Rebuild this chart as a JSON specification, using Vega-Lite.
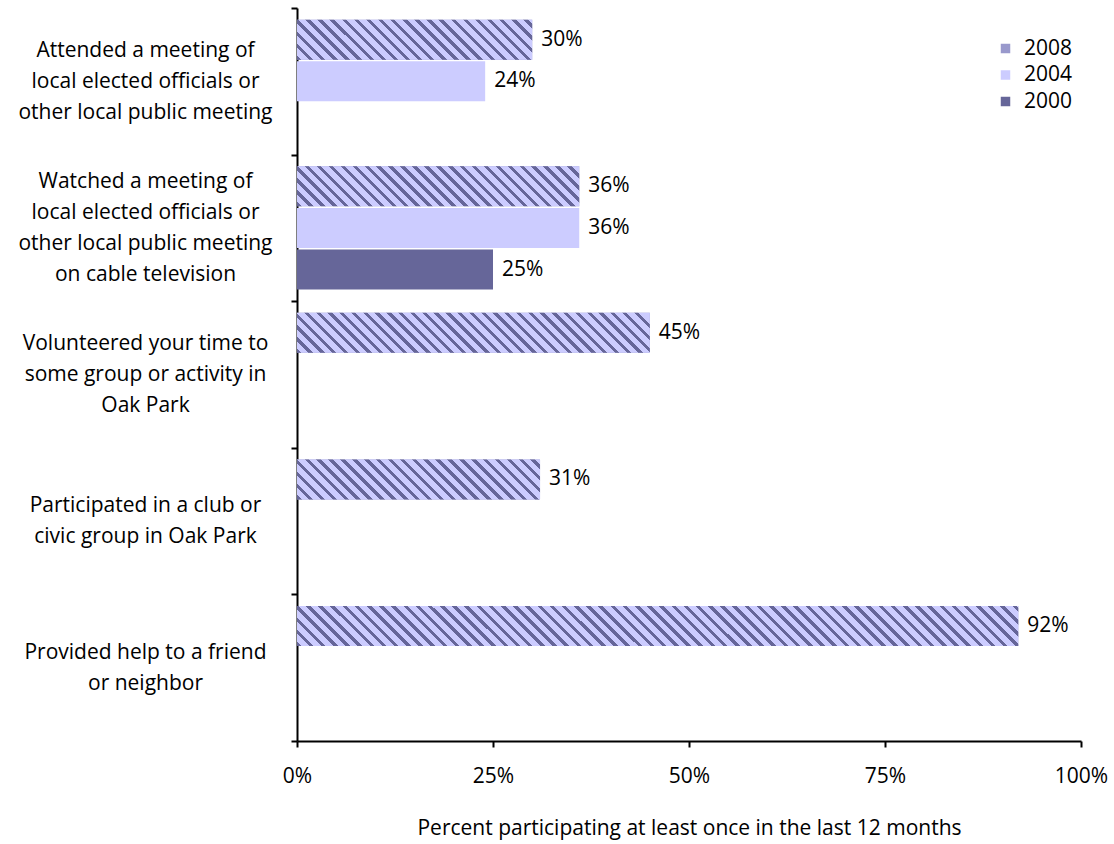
{
  "$schema": "https://vega.github.io/schema/vega-lite/v6.json",
  "width": 784,
  "height": 733,
  "autosize": "none",
  "padding": {"left": 297, "top": 8, "right": 33, "bottom": 103},
  "background": "white",
  "config": {
    "font": "Open Sans",
    "view": {"stroke": null},
    "axis": {"domainColor": "black", "tickColor": "black", "labelColor": "black", "labelFont": "Open Sans", "labelFontSize": 21, "grid": false, "domainWidth": 2, "tickWidth": 2, "tickSize": 6, "titleFont": "Open Sans", "titleFontSize": 21, "titleFontWeight": "normal", "titleColor": "black"}
  },
  "data": {
    "values": [
      {"activity": "Attended a meeting of|local elected officials or|other local public meeting", "year": "2008", "pct": 0.30},
      {"activity": "Attended a meeting of|local elected officials or|other local public meeting", "year": "2004", "pct": 0.24},
      {"activity": "Watched a meeting of|local elected officials or|other local public meeting|on cable television", "year": "2008", "pct": 0.36},
      {"activity": "Watched a meeting of|local elected officials or|other local public meeting|on cable television", "year": "2004", "pct": 0.36},
      {"activity": "Watched a meeting of|local elected officials or|other local public meeting|on cable television", "year": "2000", "pct": 0.25},
      {"activity": "Volunteered your time to|some group or activity in|Oak Park", "year": "2008", "pct": 0.45},
      {"activity": "Participated in a club or|civic group in Oak Park", "year": "2008", "pct": 0.31},
      {"activity": "Provided help to a friend|or neighbor", "year": "2008", "pct": 0.92}
    ]
  },
  "encoding": {
    "y": {"field": "activity", "type": "nominal", "sort": null, "scale": {"paddingInner": 0, "paddingOuter": 0},
      "axis": {"title": null, "labelExpr": "split(datum.label, '|')", "labelAlign": "center", "labelBaseline": "middle", "labelPadding": 146, "labelLimit": 0, "labelLineHeight": 31, "tickBand": "extent",
        "labelOffset": {"expr": "-15.5 * (length(split(datum.value, '|')) - 1)"}}},
    "yOffset": {"field": "year", "type": "nominal", "scale": {"domain": ["2008", "2004", "2000"], "paddingInner": 0.04, "paddingOuter": 0.28}},
    "x": {"field": "pct", "type": "quantitative", "scale": {"domain": [0, 1]},
      "axis": {"title": "Percent participating at least once in the last 12 months", "values": [0, 0.25, 0.5, 0.75, 1], "format": ".0%", "labelFlush": false, "labelPadding": 18, "titlePadding": 31}}
  },
  "layer": [
    {
      "mark": {"type": "bar"},
      "encoding": {
        "color": {"field": "year", "type": "nominal", "scale": {"domain": ["2008", "2004", "2000"], "range": ["#9999cc", "#ccccff", "#666699"]},
          "legend": {"title": null, "orient": "none", "legendX": 698, "legendY": 30, "padding": 0, "symbolType": "square", "symbolSize": 90, "symbolStrokeWidth": 0, "labelFontSize": 21, "labelFont": "Open Sans", "labelColor": "black", "labelOffset": 8, "rowPadding": 4.5}}
      }
    },
    {
      "transform": [{"filter": "datum.year === '2008' && indexof(datum.activity, 'Attended') === 0"}],
      "mark": {"type": "bar", "fill": {"gradient": "linear", "x1": 0, "y1": 1, "x2": 1.1372, "y2": 0.8066, "stops": [
        {"offset":0,"color":"#669"},{"offset":0.016,"color":"#669"},{"offset":0.016,"color":"#ccf"},{"offset":0.044,"color":"#ccf"},
        {"offset":0.044,"color":"#669"},{"offset":0.06,"color":"#669"},{"offset":0.06,"color":"#ccf"},{"offset":0.088,"color":"#ccf"},
        {"offset":0.088,"color":"#669"},{"offset":0.104,"color":"#669"},{"offset":0.104,"color":"#ccf"},{"offset":0.132,"color":"#ccf"},
        {"offset":0.132,"color":"#669"},{"offset":0.148,"color":"#669"},{"offset":0.148,"color":"#ccf"},{"offset":0.176,"color":"#ccf"},
        {"offset":0.176,"color":"#669"},{"offset":0.192,"color":"#669"},{"offset":0.192,"color":"#ccf"},{"offset":0.22,"color":"#ccf"},
        {"offset":0.22,"color":"#669"},{"offset":0.236,"color":"#669"},{"offset":0.236,"color":"#ccf"},{"offset":0.264,"color":"#ccf"},
        {"offset":0.264,"color":"#669"},{"offset":0.28,"color":"#669"},{"offset":0.28,"color":"#ccf"},{"offset":0.308,"color":"#ccf"},
        {"offset":0.308,"color":"#669"},{"offset":0.324,"color":"#669"},{"offset":0.324,"color":"#ccf"},{"offset":0.352,"color":"#ccf"},
        {"offset":0.352,"color":"#669"},{"offset":0.368,"color":"#669"},{"offset":0.368,"color":"#ccf"},{"offset":0.396,"color":"#ccf"},
        {"offset":0.396,"color":"#669"},{"offset":0.412,"color":"#669"},{"offset":0.412,"color":"#ccf"},{"offset":0.44,"color":"#ccf"},
        {"offset":0.44,"color":"#669"},{"offset":0.456,"color":"#669"},{"offset":0.456,"color":"#ccf"},{"offset":0.484,"color":"#ccf"},
        {"offset":0.484,"color":"#669"},{"offset":0.5,"color":"#669"},{"offset":0.5,"color":"#ccf"},{"offset":0.528,"color":"#ccf"},
        {"offset":0.528,"color":"#669"},{"offset":0.544,"color":"#669"},{"offset":0.544,"color":"#ccf"},{"offset":0.572,"color":"#ccf"},
        {"offset":0.572,"color":"#669"},{"offset":0.588,"color":"#669"},{"offset":0.588,"color":"#ccf"},{"offset":0.616,"color":"#ccf"},
        {"offset":0.616,"color":"#669"},{"offset":0.632,"color":"#669"},{"offset":0.632,"color":"#ccf"},{"offset":0.66,"color":"#ccf"},
        {"offset":0.66,"color":"#669"},{"offset":0.676,"color":"#669"},{"offset":0.676,"color":"#ccf"},{"offset":0.704,"color":"#ccf"},
        {"offset":0.704,"color":"#669"},{"offset":0.72,"color":"#669"},{"offset":0.72,"color":"#ccf"},{"offset":0.748,"color":"#ccf"},
        {"offset":0.748,"color":"#669"},{"offset":0.764,"color":"#669"},{"offset":0.764,"color":"#ccf"},{"offset":0.792,"color":"#ccf"},
        {"offset":0.792,"color":"#669"},{"offset":0.808,"color":"#669"},{"offset":0.808,"color":"#ccf"},{"offset":0.836,"color":"#ccf"},
        {"offset":0.836,"color":"#669"},{"offset":0.852,"color":"#669"},{"offset":0.852,"color":"#ccf"},{"offset":0.88,"color":"#ccf"},
        {"offset":0.88,"color":"#669"},{"offset":0.896,"color":"#669"},{"offset":0.896,"color":"#ccf"},{"offset":0.924,"color":"#ccf"},
        {"offset":0.924,"color":"#669"},{"offset":0.94,"color":"#669"},{"offset":0.94,"color":"#ccf"},{"offset":0.968,"color":"#ccf"},
        {"offset":0.968,"color":"#669"},{"offset":0.984,"color":"#669"},{"offset":0.984,"color":"#ccf"},{"offset":1,"color":"#ccf"}
      ]}},
      "encoding": {}
    },
    {
      "transform": [{"filter": "datum.year === '2008' && indexof(datum.activity, 'Watched') === 0"}],
      "mark": {"type": "bar", "fill": {"gradient": "linear", "x1": 0, "y1": 1, "x2": 1.1192, "y2": 0.8414, "stops": [
        {"offset":0,"color":"#669"},{"offset":0.014,"color":"#669"},{"offset":0.014,"color":"#ccf"},{"offset":0.037,"color":"#ccf"},
        {"offset":0.037,"color":"#669"},{"offset":0.051,"color":"#669"},{"offset":0.051,"color":"#ccf"},{"offset":0.074,"color":"#ccf"},
        {"offset":0.074,"color":"#669"},{"offset":0.088,"color":"#669"},{"offset":0.088,"color":"#ccf"},{"offset":0.111,"color":"#ccf"},
        {"offset":0.111,"color":"#669"},{"offset":0.125,"color":"#669"},{"offset":0.125,"color":"#ccf"},{"offset":0.148,"color":"#ccf"},
        {"offset":0.148,"color":"#669"},{"offset":0.162,"color":"#669"},{"offset":0.162,"color":"#ccf"},{"offset":0.185,"color":"#ccf"},
        {"offset":0.185,"color":"#669"},{"offset":0.199,"color":"#669"},{"offset":0.199,"color":"#ccf"},{"offset":0.222,"color":"#ccf"},
        {"offset":0.222,"color":"#669"},{"offset":0.236,"color":"#669"},{"offset":0.236,"color":"#ccf"},{"offset":0.259,"color":"#ccf"},
        {"offset":0.259,"color":"#669"},{"offset":0.273,"color":"#669"},{"offset":0.273,"color":"#ccf"},{"offset":0.296,"color":"#ccf"},
        {"offset":0.296,"color":"#669"},{"offset":0.31,"color":"#669"},{"offset":0.31,"color":"#ccf"},{"offset":0.333,"color":"#ccf"},
        {"offset":0.333,"color":"#669"},{"offset":0.347,"color":"#669"},{"offset":0.347,"color":"#ccf"},{"offset":0.37,"color":"#ccf"},
        {"offset":0.37,"color":"#669"},{"offset":0.384,"color":"#669"},{"offset":0.384,"color":"#ccf"},{"offset":0.407,"color":"#ccf"},
        {"offset":0.407,"color":"#669"},{"offset":0.421,"color":"#669"},{"offset":0.421,"color":"#ccf"},{"offset":0.444,"color":"#ccf"},
        {"offset":0.444,"color":"#669"},{"offset":0.458,"color":"#669"},{"offset":0.458,"color":"#ccf"},{"offset":0.481,"color":"#ccf"},
        {"offset":0.481,"color":"#669"},{"offset":0.495,"color":"#669"},{"offset":0.495,"color":"#ccf"},{"offset":0.518,"color":"#ccf"},
        {"offset":0.518,"color":"#669"},{"offset":0.532,"color":"#669"},{"offset":0.532,"color":"#ccf"},{"offset":0.555,"color":"#ccf"},
        {"offset":0.555,"color":"#669"},{"offset":0.569,"color":"#669"},{"offset":0.569,"color":"#ccf"},{"offset":0.592,"color":"#ccf"},
        {"offset":0.592,"color":"#669"},{"offset":0.606,"color":"#669"},{"offset":0.606,"color":"#ccf"},{"offset":0.629,"color":"#ccf"},
        {"offset":0.629,"color":"#669"},{"offset":0.643,"color":"#669"},{"offset":0.643,"color":"#ccf"},{"offset":0.666,"color":"#ccf"},
        {"offset":0.666,"color":"#669"},{"offset":0.68,"color":"#669"},{"offset":0.68,"color":"#ccf"},{"offset":0.703,"color":"#ccf"},
        {"offset":0.703,"color":"#669"},{"offset":0.717,"color":"#669"},{"offset":0.717,"color":"#ccf"},{"offset":0.74,"color":"#ccf"},
        {"offset":0.74,"color":"#669"},{"offset":0.754,"color":"#669"},{"offset":0.754,"color":"#ccf"},{"offset":0.777,"color":"#ccf"},
        {"offset":0.777,"color":"#669"},{"offset":0.791,"color":"#669"},{"offset":0.791,"color":"#ccf"},{"offset":0.814,"color":"#ccf"},
        {"offset":0.814,"color":"#669"},{"offset":0.828,"color":"#669"},{"offset":0.828,"color":"#ccf"},{"offset":0.851,"color":"#ccf"},
        {"offset":0.851,"color":"#669"},{"offset":0.865,"color":"#669"},{"offset":0.865,"color":"#ccf"},{"offset":0.888,"color":"#ccf"},
        {"offset":0.888,"color":"#669"},{"offset":0.902,"color":"#669"},{"offset":0.902,"color":"#ccf"},{"offset":0.925,"color":"#ccf"},
        {"offset":0.925,"color":"#669"},{"offset":0.939,"color":"#669"},{"offset":0.939,"color":"#ccf"},{"offset":0.962,"color":"#ccf"},
        {"offset":0.962,"color":"#669"},{"offset":0.976,"color":"#669"},{"offset":0.976,"color":"#ccf"},{"offset":1,"color":"#ccf"}
      ]}},
      "encoding": {}
    },
    {
      "transform": [{"filter": "datum.year === '2008' && indexof(datum.activity, 'Volunteered') === 0"}],
      "mark": {"type": "bar", "fill": {"gradient": "linear", "x1": 0, "y1": 1, "x2": 1.0992, "y2": 0.8754, "stops": [
        {"offset":0,"color":"#669"},{"offset":0.011,"color":"#669"},{"offset":0.011,"color":"#ccf"},{"offset":0.03,"color":"#ccf"},
        {"offset":0.03,"color":"#669"},{"offset":0.041,"color":"#669"},{"offset":0.041,"color":"#ccf"},{"offset":0.06,"color":"#ccf"},
        {"offset":0.06,"color":"#669"},{"offset":0.071,"color":"#669"},{"offset":0.071,"color":"#ccf"},{"offset":0.09,"color":"#ccf"},
        {"offset":0.09,"color":"#669"},{"offset":0.101,"color":"#669"},{"offset":0.101,"color":"#ccf"},{"offset":0.12,"color":"#ccf"},
        {"offset":0.12,"color":"#669"},{"offset":0.131,"color":"#669"},{"offset":0.131,"color":"#ccf"},{"offset":0.15,"color":"#ccf"},
        {"offset":0.15,"color":"#669"},{"offset":0.161,"color":"#669"},{"offset":0.161,"color":"#ccf"},{"offset":0.18,"color":"#ccf"},
        {"offset":0.18,"color":"#669"},{"offset":0.191,"color":"#669"},{"offset":0.191,"color":"#ccf"},{"offset":0.21,"color":"#ccf"},
        {"offset":0.21,"color":"#669"},{"offset":0.221,"color":"#669"},{"offset":0.221,"color":"#ccf"},{"offset":0.24,"color":"#ccf"},
        {"offset":0.24,"color":"#669"},{"offset":0.251,"color":"#669"},{"offset":0.251,"color":"#ccf"},{"offset":0.27,"color":"#ccf"},
        {"offset":0.27,"color":"#669"},{"offset":0.281,"color":"#669"},{"offset":0.281,"color":"#ccf"},{"offset":0.3,"color":"#ccf"},
        {"offset":0.3,"color":"#669"},{"offset":0.311,"color":"#669"},{"offset":0.311,"color":"#ccf"},{"offset":0.33,"color":"#ccf"},
        {"offset":0.33,"color":"#669"},{"offset":0.341,"color":"#669"},{"offset":0.341,"color":"#ccf"},{"offset":0.36,"color":"#ccf"},
        {"offset":0.36,"color":"#669"},{"offset":0.371,"color":"#669"},{"offset":0.371,"color":"#ccf"},{"offset":0.39,"color":"#ccf"},
        {"offset":0.39,"color":"#669"},{"offset":0.401,"color":"#669"},{"offset":0.401,"color":"#ccf"},{"offset":0.42,"color":"#ccf"},
        {"offset":0.42,"color":"#669"},{"offset":0.431,"color":"#669"},{"offset":0.431,"color":"#ccf"},{"offset":0.45,"color":"#ccf"},
        {"offset":0.45,"color":"#669"},{"offset":0.461,"color":"#669"},{"offset":0.461,"color":"#ccf"},{"offset":0.48,"color":"#ccf"},
        {"offset":0.48,"color":"#669"},{"offset":0.491,"color":"#669"},{"offset":0.491,"color":"#ccf"},{"offset":0.51,"color":"#ccf"},
        {"offset":0.51,"color":"#669"},{"offset":0.521,"color":"#669"},{"offset":0.521,"color":"#ccf"},{"offset":0.54,"color":"#ccf"},
        {"offset":0.54,"color":"#669"},{"offset":0.551,"color":"#669"},{"offset":0.551,"color":"#ccf"},{"offset":0.57,"color":"#ccf"},
        {"offset":0.57,"color":"#669"},{"offset":0.581,"color":"#669"},{"offset":0.581,"color":"#ccf"},{"offset":0.6,"color":"#ccf"},
        {"offset":0.6,"color":"#669"},{"offset":0.611,"color":"#669"},{"offset":0.611,"color":"#ccf"},{"offset":0.63,"color":"#ccf"},
        {"offset":0.63,"color":"#669"},{"offset":0.641,"color":"#669"},{"offset":0.641,"color":"#ccf"},{"offset":0.66,"color":"#ccf"},
        {"offset":0.66,"color":"#669"},{"offset":0.671,"color":"#669"},{"offset":0.671,"color":"#ccf"},{"offset":0.69,"color":"#ccf"},
        {"offset":0.69,"color":"#669"},{"offset":0.701,"color":"#669"},{"offset":0.701,"color":"#ccf"},{"offset":0.72,"color":"#ccf"},
        {"offset":0.72,"color":"#669"},{"offset":0.731,"color":"#669"},{"offset":0.731,"color":"#ccf"},{"offset":0.75,"color":"#ccf"},
        {"offset":0.75,"color":"#669"},{"offset":0.761,"color":"#669"},{"offset":0.761,"color":"#ccf"},{"offset":0.78,"color":"#ccf"},
        {"offset":0.78,"color":"#669"},{"offset":0.791,"color":"#669"},{"offset":0.791,"color":"#ccf"},{"offset":0.81,"color":"#ccf"},
        {"offset":0.81,"color":"#669"},{"offset":0.821,"color":"#669"},{"offset":0.821,"color":"#ccf"},{"offset":0.84,"color":"#ccf"},
        {"offset":0.84,"color":"#669"},{"offset":0.851,"color":"#669"},{"offset":0.851,"color":"#ccf"},{"offset":0.87,"color":"#ccf"},
        {"offset":0.87,"color":"#669"},{"offset":0.881,"color":"#669"},{"offset":0.881,"color":"#ccf"},{"offset":0.9,"color":"#ccf"},
        {"offset":0.9,"color":"#669"},{"offset":0.911,"color":"#669"},{"offset":0.911,"color":"#ccf"},{"offset":0.93,"color":"#ccf"},
        {"offset":0.93,"color":"#669"},{"offset":0.941,"color":"#669"},{"offset":0.941,"color":"#ccf"},{"offset":0.96,"color":"#ccf"},
        {"offset":0.96,"color":"#669"},{"offset":0.971,"color":"#669"},{"offset":0.971,"color":"#ccf"},{"offset":1,"color":"#ccf"}
      ]}},
      "encoding": {}
    },
    {
      "transform": [{"filter": "datum.year === '2008' && indexof(datum.activity, 'Participated') === 0"}],
      "mark": {"type": "bar", "fill": {"gradient": "linear", "x1": 0, "y1": 1, "x2": 1.1339, "y2": 0.8134, "stops": [
        {"offset":0,"color":"#669"},{"offset":0.016,"color":"#669"},{"offset":0.016,"color":"#ccf"},{"offset":0.042,"color":"#ccf"},
        {"offset":0.042,"color":"#669"},{"offset":0.058,"color":"#669"},{"offset":0.058,"color":"#ccf"},{"offset":0.084,"color":"#ccf"},
        {"offset":0.084,"color":"#669"},{"offset":0.1,"color":"#669"},{"offset":0.1,"color":"#ccf"},{"offset":0.126,"color":"#ccf"},
        {"offset":0.126,"color":"#669"},{"offset":0.142,"color":"#669"},{"offset":0.142,"color":"#ccf"},{"offset":0.168,"color":"#ccf"},
        {"offset":0.168,"color":"#669"},{"offset":0.184,"color":"#669"},{"offset":0.184,"color":"#ccf"},{"offset":0.21,"color":"#ccf"},
        {"offset":0.21,"color":"#669"},{"offset":0.226,"color":"#669"},{"offset":0.226,"color":"#ccf"},{"offset":0.252,"color":"#ccf"},
        {"offset":0.252,"color":"#669"},{"offset":0.268,"color":"#669"},{"offset":0.268,"color":"#ccf"},{"offset":0.294,"color":"#ccf"},
        {"offset":0.294,"color":"#669"},{"offset":0.31,"color":"#669"},{"offset":0.31,"color":"#ccf"},{"offset":0.336,"color":"#ccf"},
        {"offset":0.336,"color":"#669"},{"offset":0.352,"color":"#669"},{"offset":0.352,"color":"#ccf"},{"offset":0.378,"color":"#ccf"},
        {"offset":0.378,"color":"#669"},{"offset":0.394,"color":"#669"},{"offset":0.394,"color":"#ccf"},{"offset":0.42,"color":"#ccf"},
        {"offset":0.42,"color":"#669"},{"offset":0.436,"color":"#669"},{"offset":0.436,"color":"#ccf"},{"offset":0.462,"color":"#ccf"},
        {"offset":0.462,"color":"#669"},{"offset":0.478,"color":"#669"},{"offset":0.478,"color":"#ccf"},{"offset":0.504,"color":"#ccf"},
        {"offset":0.504,"color":"#669"},{"offset":0.52,"color":"#669"},{"offset":0.52,"color":"#ccf"},{"offset":0.546,"color":"#ccf"},
        {"offset":0.546,"color":"#669"},{"offset":0.562,"color":"#669"},{"offset":0.562,"color":"#ccf"},{"offset":0.588,"color":"#ccf"},
        {"offset":0.588,"color":"#669"},{"offset":0.604,"color":"#669"},{"offset":0.604,"color":"#ccf"},{"offset":0.63,"color":"#ccf"},
        {"offset":0.63,"color":"#669"},{"offset":0.646,"color":"#669"},{"offset":0.646,"color":"#ccf"},{"offset":0.672,"color":"#ccf"},
        {"offset":0.672,"color":"#669"},{"offset":0.688,"color":"#669"},{"offset":0.688,"color":"#ccf"},{"offset":0.714,"color":"#ccf"},
        {"offset":0.714,"color":"#669"},{"offset":0.73,"color":"#669"},{"offset":0.73,"color":"#ccf"},{"offset":0.756,"color":"#ccf"},
        {"offset":0.756,"color":"#669"},{"offset":0.772,"color":"#669"},{"offset":0.772,"color":"#ccf"},{"offset":0.798,"color":"#ccf"},
        {"offset":0.798,"color":"#669"},{"offset":0.814,"color":"#669"},{"offset":0.814,"color":"#ccf"},{"offset":0.84,"color":"#ccf"},
        {"offset":0.84,"color":"#669"},{"offset":0.856,"color":"#669"},{"offset":0.856,"color":"#ccf"},{"offset":0.882,"color":"#ccf"},
        {"offset":0.882,"color":"#669"},{"offset":0.898,"color":"#669"},{"offset":0.898,"color":"#ccf"},{"offset":0.924,"color":"#ccf"},
        {"offset":0.924,"color":"#669"},{"offset":0.94,"color":"#669"},{"offset":0.94,"color":"#ccf"},{"offset":0.966,"color":"#ccf"},
        {"offset":0.966,"color":"#669"},{"offset":0.982,"color":"#669"},{"offset":0.982,"color":"#ccf"},{"offset":1,"color":"#ccf"}
      ]}},
      "encoding": {}
    },
    {
      "transform": [{"filter": "datum.year === '2008' && indexof(datum.activity, 'Provided') === 0"}],
      "mark": {"type": "bar", "fill": {"gradient": "linear", "x1": 0, "y1": 1, "x2": 1.0522, "y2": 0.9416, "stops": [
        {"offset":0,"color":"#669"},{"offset":0.006,"color":"#669"},{"offset":0.006,"color":"#ccf"},{"offset":0.016,"color":"#ccf"},
        {"offset":0.016,"color":"#669"},{"offset":0.022,"color":"#669"},{"offset":0.022,"color":"#ccf"},{"offset":0.032,"color":"#ccf"},
        {"offset":0.032,"color":"#669"},{"offset":0.038,"color":"#669"},{"offset":0.038,"color":"#ccf"},{"offset":0.048,"color":"#ccf"},
        {"offset":0.048,"color":"#669"},{"offset":0.054,"color":"#669"},{"offset":0.054,"color":"#ccf"},{"offset":0.064,"color":"#ccf"},
        {"offset":0.064,"color":"#669"},{"offset":0.07,"color":"#669"},{"offset":0.07,"color":"#ccf"},{"offset":0.08,"color":"#ccf"},
        {"offset":0.08,"color":"#669"},{"offset":0.086,"color":"#669"},{"offset":0.086,"color":"#ccf"},{"offset":0.096,"color":"#ccf"},
        {"offset":0.096,"color":"#669"},{"offset":0.102,"color":"#669"},{"offset":0.102,"color":"#ccf"},{"offset":0.112,"color":"#ccf"},
        {"offset":0.112,"color":"#669"},{"offset":0.118,"color":"#669"},{"offset":0.118,"color":"#ccf"},{"offset":0.128,"color":"#ccf"},
        {"offset":0.128,"color":"#669"},{"offset":0.134,"color":"#669"},{"offset":0.134,"color":"#ccf"},{"offset":0.144,"color":"#ccf"},
        {"offset":0.144,"color":"#669"},{"offset":0.15,"color":"#669"},{"offset":0.15,"color":"#ccf"},{"offset":0.16,"color":"#ccf"},
        {"offset":0.16,"color":"#669"},{"offset":0.166,"color":"#669"},{"offset":0.166,"color":"#ccf"},{"offset":0.176,"color":"#ccf"},
        {"offset":0.176,"color":"#669"},{"offset":0.182,"color":"#669"},{"offset":0.182,"color":"#ccf"},{"offset":0.192,"color":"#ccf"},
        {"offset":0.192,"color":"#669"},{"offset":0.198,"color":"#669"},{"offset":0.198,"color":"#ccf"},{"offset":0.208,"color":"#ccf"},
        {"offset":0.208,"color":"#669"},{"offset":0.214,"color":"#669"},{"offset":0.214,"color":"#ccf"},{"offset":0.224,"color":"#ccf"},
        {"offset":0.224,"color":"#669"},{"offset":0.23,"color":"#669"},{"offset":0.23,"color":"#ccf"},{"offset":0.24,"color":"#ccf"},
        {"offset":0.24,"color":"#669"},{"offset":0.246,"color":"#669"},{"offset":0.246,"color":"#ccf"},{"offset":0.256,"color":"#ccf"},
        {"offset":0.256,"color":"#669"},{"offset":0.262,"color":"#669"},{"offset":0.262,"color":"#ccf"},{"offset":0.272,"color":"#ccf"},
        {"offset":0.272,"color":"#669"},{"offset":0.278,"color":"#669"},{"offset":0.278,"color":"#ccf"},{"offset":0.288,"color":"#ccf"},
        {"offset":0.288,"color":"#669"},{"offset":0.294,"color":"#669"},{"offset":0.294,"color":"#ccf"},{"offset":0.304,"color":"#ccf"},
        {"offset":0.304,"color":"#669"},{"offset":0.31,"color":"#669"},{"offset":0.31,"color":"#ccf"},{"offset":0.32,"color":"#ccf"},
        {"offset":0.32,"color":"#669"},{"offset":0.326,"color":"#669"},{"offset":0.326,"color":"#ccf"},{"offset":0.336,"color":"#ccf"},
        {"offset":0.336,"color":"#669"},{"offset":0.342,"color":"#669"},{"offset":0.342,"color":"#ccf"},{"offset":0.352,"color":"#ccf"},
        {"offset":0.352,"color":"#669"},{"offset":0.358,"color":"#669"},{"offset":0.358,"color":"#ccf"},{"offset":0.368,"color":"#ccf"},
        {"offset":0.368,"color":"#669"},{"offset":0.374,"color":"#669"},{"offset":0.374,"color":"#ccf"},{"offset":0.384,"color":"#ccf"},
        {"offset":0.384,"color":"#669"},{"offset":0.39,"color":"#669"},{"offset":0.39,"color":"#ccf"},{"offset":0.4,"color":"#ccf"},
        {"offset":0.4,"color":"#669"},{"offset":0.406,"color":"#669"},{"offset":0.406,"color":"#ccf"},{"offset":0.416,"color":"#ccf"},
        {"offset":0.416,"color":"#669"},{"offset":0.422,"color":"#669"},{"offset":0.422,"color":"#ccf"},{"offset":0.432,"color":"#ccf"},
        {"offset":0.432,"color":"#669"},{"offset":0.438,"color":"#669"},{"offset":0.438,"color":"#ccf"},{"offset":0.448,"color":"#ccf"},
        {"offset":0.448,"color":"#669"},{"offset":0.454,"color":"#669"},{"offset":0.454,"color":"#ccf"},{"offset":0.464,"color":"#ccf"},
        {"offset":0.464,"color":"#669"},{"offset":0.47,"color":"#669"},{"offset":0.47,"color":"#ccf"},{"offset":0.48,"color":"#ccf"},
        {"offset":0.48,"color":"#669"},{"offset":0.486,"color":"#669"},{"offset":0.486,"color":"#ccf"},{"offset":0.496,"color":"#ccf"},
        {"offset":0.496,"color":"#669"},{"offset":0.502,"color":"#669"},{"offset":0.502,"color":"#ccf"},{"offset":0.512,"color":"#ccf"},
        {"offset":0.512,"color":"#669"},{"offset":0.518,"color":"#669"},{"offset":0.518,"color":"#ccf"},{"offset":0.528,"color":"#ccf"},
        {"offset":0.528,"color":"#669"},{"offset":0.534,"color":"#669"},{"offset":0.534,"color":"#ccf"},{"offset":0.544,"color":"#ccf"},
        {"offset":0.544,"color":"#669"},{"offset":0.55,"color":"#669"},{"offset":0.55,"color":"#ccf"},{"offset":0.56,"color":"#ccf"},
        {"offset":0.56,"color":"#669"},{"offset":0.566,"color":"#669"},{"offset":0.566,"color":"#ccf"},{"offset":0.576,"color":"#ccf"},
        {"offset":0.576,"color":"#669"},{"offset":0.582,"color":"#669"},{"offset":0.582,"color":"#ccf"},{"offset":0.592,"color":"#ccf"},
        {"offset":0.592,"color":"#669"},{"offset":0.598,"color":"#669"},{"offset":0.598,"color":"#ccf"},{"offset":0.608,"color":"#ccf"},
        {"offset":0.608,"color":"#669"},{"offset":0.614,"color":"#669"},{"offset":0.614,"color":"#ccf"},{"offset":0.624,"color":"#ccf"},
        {"offset":0.624,"color":"#669"},{"offset":0.63,"color":"#669"},{"offset":0.63,"color":"#ccf"},{"offset":0.64,"color":"#ccf"},
        {"offset":0.64,"color":"#669"},{"offset":0.646,"color":"#669"},{"offset":0.646,"color":"#ccf"},{"offset":0.656,"color":"#ccf"},
        {"offset":0.656,"color":"#669"},{"offset":0.662,"color":"#669"},{"offset":0.662,"color":"#ccf"},{"offset":0.672,"color":"#ccf"},
        {"offset":0.672,"color":"#669"},{"offset":0.678,"color":"#669"},{"offset":0.678,"color":"#ccf"},{"offset":0.688,"color":"#ccf"},
        {"offset":0.688,"color":"#669"},{"offset":0.694,"color":"#669"},{"offset":0.694,"color":"#ccf"},{"offset":0.704,"color":"#ccf"},
        {"offset":0.704,"color":"#669"},{"offset":0.71,"color":"#669"},{"offset":0.71,"color":"#ccf"},{"offset":0.72,"color":"#ccf"},
        {"offset":0.72,"color":"#669"},{"offset":0.726,"color":"#669"},{"offset":0.726,"color":"#ccf"},{"offset":0.736,"color":"#ccf"},
        {"offset":0.736,"color":"#669"},{"offset":0.742,"color":"#669"},{"offset":0.742,"color":"#ccf"},{"offset":0.752,"color":"#ccf"},
        {"offset":0.752,"color":"#669"},{"offset":0.758,"color":"#669"},{"offset":0.758,"color":"#ccf"},{"offset":0.768,"color":"#ccf"},
        {"offset":0.768,"color":"#669"},{"offset":0.774,"color":"#669"},{"offset":0.774,"color":"#ccf"},{"offset":0.784,"color":"#ccf"},
        {"offset":0.784,"color":"#669"},{"offset":0.79,"color":"#669"},{"offset":0.79,"color":"#ccf"},{"offset":0.8,"color":"#ccf"},
        {"offset":0.8,"color":"#669"},{"offset":0.806,"color":"#669"},{"offset":0.806,"color":"#ccf"},{"offset":0.816,"color":"#ccf"},
        {"offset":0.816,"color":"#669"},{"offset":0.822,"color":"#669"},{"offset":0.822,"color":"#ccf"},{"offset":0.832,"color":"#ccf"},
        {"offset":0.832,"color":"#669"},{"offset":0.838,"color":"#669"},{"offset":0.838,"color":"#ccf"},{"offset":0.848,"color":"#ccf"},
        {"offset":0.848,"color":"#669"},{"offset":0.854,"color":"#669"},{"offset":0.854,"color":"#ccf"},{"offset":0.864,"color":"#ccf"},
        {"offset":0.864,"color":"#669"},{"offset":0.87,"color":"#669"},{"offset":0.87,"color":"#ccf"},{"offset":0.88,"color":"#ccf"},
        {"offset":0.88,"color":"#669"},{"offset":0.886,"color":"#669"},{"offset":0.886,"color":"#ccf"},{"offset":0.896,"color":"#ccf"},
        {"offset":0.896,"color":"#669"},{"offset":0.902,"color":"#669"},{"offset":0.902,"color":"#ccf"},{"offset":0.912,"color":"#ccf"},
        {"offset":0.912,"color":"#669"},{"offset":0.918,"color":"#669"},{"offset":0.918,"color":"#ccf"},{"offset":0.928,"color":"#ccf"},
        {"offset":0.928,"color":"#669"},{"offset":0.934,"color":"#669"},{"offset":0.934,"color":"#ccf"},{"offset":0.944,"color":"#ccf"},
        {"offset":0.944,"color":"#669"},{"offset":0.95,"color":"#669"},{"offset":0.95,"color":"#ccf"},{"offset":0.96,"color":"#ccf"},
        {"offset":0.96,"color":"#669"},{"offset":0.966,"color":"#669"},{"offset":0.966,"color":"#ccf"},{"offset":0.976,"color":"#ccf"},
        {"offset":0.976,"color":"#669"},{"offset":0.982,"color":"#669"},{"offset":0.982,"color":"#ccf"},{"offset":0.992,"color":"#ccf"},
        {"offset":0.992,"color":"#669"},{"offset":0.998,"color":"#669"},{"offset":0.998,"color":"#ccf"},{"offset":1,"color":"#ccf"}
      ]}},
      "encoding": {}
    },
    {
      "mark": {"type": "text", "align": "left", "baseline": "middle", "dx": 9, "font": "Open Sans", "fontSize": 21, "color": "black"},
      "encoding": {"text": {"field": "pct", "type": "quantitative", "format": ".0%"}}
    }
  ]
}
